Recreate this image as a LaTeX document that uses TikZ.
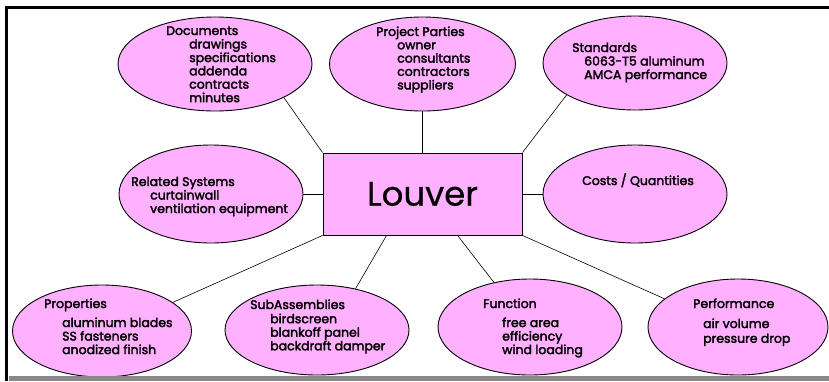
\documentclass[tikz,border=0pt]{standalone}
\usepackage{fontspec}
\setmainfont{Poppins}
\newfontfamily\bubfont{Poppins}[FakeBold=2.4]
\newfontfamily\hubfont{Poppins}[FakeBold=0.6]
\usetikzlibrary{shapes.geometric,calc}
\definecolor{bubblepink}{RGB}{255,176,255}
\definecolor{shadowgray}{RGB}{136,136,136}
\tikzset{
  bubble/.style={ellipse, draw=black, line width=0.9pt, fill=bubblepink, inner sep=0pt},
  hub/.style={rectangle, draw=black, line width=0.9pt, fill=bubblepink, inner sep=0pt,
    minimum width=199pt, minimum height=82pt, font=\hubfont\fontsize{34}{34}\selectfont},
  bubtext/.style={anchor=base west, inner sep=0pt, font=\bubfont\fontsize{12.5}{13.3}\selectfont},
  link/.style={draw=black, line width=0.6pt},
  framebar/.style={fill=black},
  shadowbar/.style={fill=shadowgray},
}
\newcommand{\bubitems}[3]{\begin{tabular}[t]{@{}l@{}}#1\\[#2]#3\end{tabular}}
\begin{document}
\begin{tikzpicture}[x=1pt,y=-1pt]
\fill[white] (0,0) rectangle (829,381);
\useasboundingbox (0,0) rectangle (829,381);

% frame
\fill[framebar] (5,6) rectangle (829,9);
\fill[framebar] (5,6) rectangle (8,381);

% hub
\node[hub] (hub) at (422.5,194) {Louver};

% bubbles
\node[bubble, minimum width=194pt, minimum height=94pt] (doc) at (215,64) {};
\node[bubble, minimum width=186pt, minimum height=94pt] (pp) at (422.5,64) {};
\node[bubble, minimum width=184pt, minimum height=94pt] (std) at (635,63) {};
\node[bubble, minimum width=184pt, minimum height=98pt] (rs) at (211,194) {};
\node[bubble, minimum width=184pt, minimum height=98pt] (cq) at (635,194) {};
\node[bubble, minimum width=179pt, minimum height=92pt] (prop) at (102,331) {};
\node[bubble, minimum width=184pt, minimum height=90pt] (sub) at (317,330) {};
\node[bubble, minimum width=184pt, minimum height=96pt] (fun) at (530,327) {};
\node[bubble, minimum width=180pt, minimum height=96pt] (perf) at (738,327) {};

% connector end points on the hub
\coordinate (hubsub) at ($(hub.south west)+(64,0)$);
\coordinate (hubfun) at ($(hub.south west)+(135,0)$);

% connectors
\draw[link] (doc.-26) -- (hub.north west);
\draw[link] (pp.south) -- (hub.north);
\draw[link] (std.205) -- (hub.north east);
\draw[link] (rs.east) -- (hub.west);
\draw[link] (cq.west) -- (hub.east);
\draw[link] (prop.22) -- (hub.south west);
\draw[link] (sub.47) -- (hubsub);
\draw[link] (fun.129) -- (hubfun);
\draw[link] (perf.159) -- (hub.south east);

% texts
\node[bubtext] (tdoc) at (166,35) {\bubitems{Documents}{0pt}{\hspace{23pt}drawings\\\hspace{23pt}specifications\\\hspace{23pt}addenda\\\hspace{23pt}contracts\\\hspace{23pt}minutes}};
\node[bubtext] (tpp) at (376,36) {\bubitems{Project Parties}{0pt}{\hspace{21pt}owner\\\hspace{21pt}consultants\\\hspace{21pt}contractors\\\hspace{21pt}suppliers}};
\node[bubtext] (tstd) at (572,52) {\bubitems{Standards}{0pt}{\hspace{12pt}6063-T5 aluminum\\\hspace{12pt}AMCA performance}};
\node[bubtext] (trs) at (131,186) {\bubitems{Related Systems}{0pt}{\hspace{19pt}curtainwall\\\hspace{19pt}ventilation equipment}};
\node[bubtext] (tcq) at (582,185) {Costs / Quantities};
\node[bubtext] (tprop) at (44,308) {\bubitems{Properties}{5.5pt}{\hspace{18pt}aluminum blades\\\hspace{18pt}SS fasteners\\\hspace{18pt}anodized finish}};
\node[bubtext] (tsub) at (250,309) {\bubitems{SubAssemblies}{0.7pt}{\hspace{20pt}birdscreen\\\hspace{20pt}blankoff panel\\\hspace{20pt}backdraft damper}};
\node[bubtext] (tfun) at (483,308) {\bubitems{Function}{5.5pt}{\hspace{19pt}free area\\\hspace{19pt}efficiency\\\hspace{19pt}wind loading}};
\node[bubtext] (tperf) at (693,308) {\bubitems{Performance}{6.5pt}{\hspace{10pt}air volume\\[1.5pt]\hspace{10pt}pressure drop}};

% shadow bar
\fill[shadowbar] (9,376) rectangle (829,381);
\end{tikzpicture}
\end{document}
